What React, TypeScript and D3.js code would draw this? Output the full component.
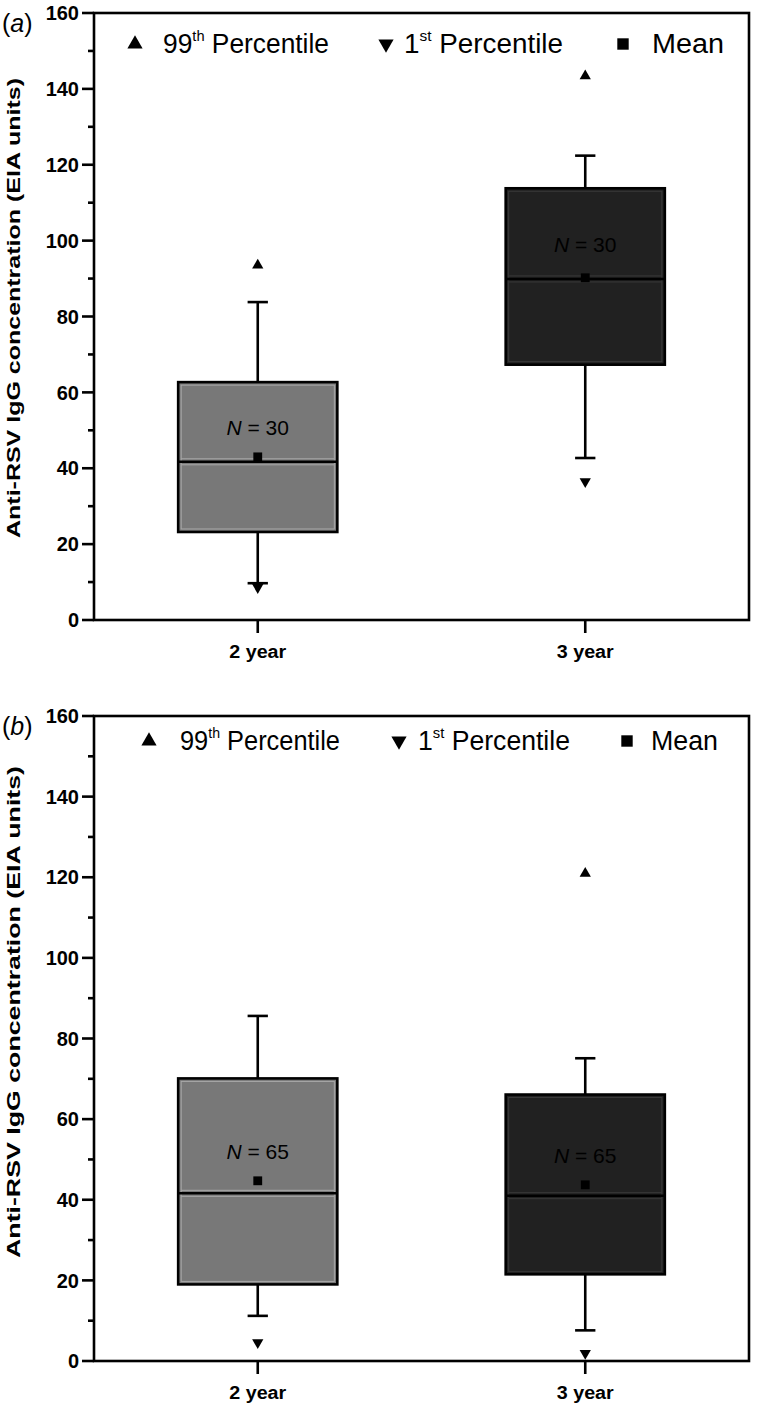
import React from "react";
import * as d3 from "d3";

// ---------- data ----------
const categories = ["2 year", "3 year"];
const yTicks = [0, 20, 40, 60, 80, 100, 120, 140, 160];
const yMinorTicks = [10, 30, 50, 70, 90, 110, 130, 150];

// Panel (a)
const aP99 = [93.5, 143.4];
const aWhiskerHigh = [83.8, 122.4];
const aQ3 = [62.7, 113.8];
const aMedian = [41.7, 89.9];
const aMean = [43.0, 90.2];
const aQ1 = [23.2, 67.3];
const aWhiskerLow = [9.7, 42.7];
const aP1 = [8.6, 36.5];
const aN = [30, 30];
const aNLabelAt = [50.8, 99];

// Panel (b)
const bP99 = [NaN, 120.9];
const bWhiskerHigh = [85.6, 75.1];
const bQ3 = [70.1, 66.1];
const bMedian = [41.6, 41.0];
const bMean = [44.7, 43.7];
const bQ1 = [19.0, 21.5];
const bWhiskerLow = [11.2, 7.6];
const bP1 = [4.6, 1.9];
const bN = [65, 65];
const bNLabelAt = [51.9, 51.1];

const legendLabels = ["99", "1", "Mean"];
const legendSup = ["th", "st", ""];

// ---------- layout / style ----------
const LEFT = 94;
const RIGHT = 749;
const FONT = "'Liberation Sans', Arial, sans-serif";
const boxFills = ["#787878", "#212121"];
const innerStrokes = ["#a9a9a9", "#3a3a3a"];

type PanelCfg = {
  tag: string;
  top: number;
  bottom: number;
  p99: number[];
  wHigh: number[];
  q3: number[];
  median: number[];
  mean: number[];
  q1: number[];
  wLow: number[];
  p1: number[];
  n: number[];
  nAt: number[];
  legendY: number;
  legendX: number[];
  labelCenter: number;
  labelLength: number;
};

const panels: PanelCfg[] = [
  {
    tag: "a",
    top: 13,
    bottom: 620,
    p99: aP99,
    wHigh: aWhiskerHigh,
    q3: aQ3,
    median: aMedian,
    mean: aMean,
    q1: aQ1,
    wLow: aWhiskerLow,
    p1: aP1,
    n: aN,
    nAt: aNLabelAt,
    legendY: 53,
    legendX: [135, 163, 166, 386, 404, 159, 623, 652, 72],
    labelCenter: 308,
    labelLength: 460,
  },
  {
    tag: "b",
    top: 716,
    bottom: 1361,
    p99: bP99,
    wHigh: bWhiskerHigh,
    q3: bQ3,
    median: bMedian,
    mean: bMean,
    q1: bQ1,
    wLow: bWhiskerLow,
    p1: bP1,
    n: bN,
    nAt: bNLabelAt,
    legendY: 750,
    legendX: [149, 180, 160, 399, 418, 152, 627, 651, 67],
    labelCenter: 1012,
    labelLength: 492,
  },
];

const triUp = d3.symbol().type(d3.symbolTriangle);
const sq = d3.symbol().type(d3.symbolSquare);

function Panel({ cfg }: { cfg: PanelCfg }) {
  const y = d3.scaleLinear().domain([0, 160]).range([cfg.bottom, cfg.top]);
  const x = d3.scaleLinear().domain([0.5, 2.5]).range([LEFT, RIGHT]);
  const halfBox = 0.243;
  const halfCap = 0.031;
  const sw = 2.6;

  return (
    <g fontFamily={FONT}>
      <text x={2} y={cfg.top + 12} fontSize={25} dominantBaseline="middle">
        (<tspan fontStyle="italic">{cfg.tag}</tspan>)
      </text>

      <text
        transform={`translate(20,${cfg.labelCenter}) rotate(-90)`}
        textAnchor="middle"
        fontSize={19}
        fontWeight="bold"
        textLength={cfg.labelLength}
        lengthAdjust="spacingAndGlyphs"
      >
        Anti-RSV IgG concentration (EIA units)
      </text>

      {categories.map((c, i) => {
        const cx = x(i + 1);
        const x0 = x(i + 1 - halfBox);
        const x1 = x(i + 1 + halfBox);
        const c0 = x(i + 1 - halfCap);
        const c1 = x(i + 1 + halfCap);
        const yq3 = y(cfg.q3[i]);
        const yq1 = y(cfg.q1[i]);
        const ym = y(cfg.median[i]);
        return (
          <g key={c}>
            <line x1={cx} x2={cx} y1={yq3} y2={y(cfg.wHigh[i])} stroke="#000" strokeWidth={sw} />
            <line x1={c0} x2={c1} y1={y(cfg.wHigh[i])} y2={y(cfg.wHigh[i])} stroke="#000" strokeWidth={sw} />
            <line x1={cx} x2={cx} y1={yq1} y2={y(cfg.wLow[i])} stroke="#000" strokeWidth={sw} />
            <line x1={c0} x2={c1} y1={y(cfg.wLow[i])} y2={y(cfg.wLow[i])} stroke="#000" strokeWidth={sw} />
            <rect x={x0} y={yq3} width={x1 - x0} height={yq1 - yq3} fill={boxFills[i]} stroke="#000" strokeWidth={sw} />
            <rect
              x={x0 + 3}
              y={yq3 + 3}
              width={x1 - x0 - 6}
              height={yq1 - yq3 - 6}
              fill="none"
              stroke={innerStrokes[i]}
              strokeWidth={1}
            />
            <line x1={x0 + 3} x2={x1 - 3} y1={ym - 3} y2={ym - 3} stroke={innerStrokes[i]} strokeWidth={1} />
            <line x1={x0 + 3} x2={x1 - 3} y1={ym + 3} y2={ym + 3} stroke={innerStrokes[i]} strokeWidth={1} />
            <line x1={x0} x2={x1} y1={ym} y2={ym} stroke="#000" strokeWidth={sw} />
            <text x={cx} y={y(cfg.nAt[i])} dy="0.36em" textAnchor="middle" fontSize={21} fill="#000">
              <tspan fontStyle="italic">N</tspan>
              {" = " + cfg.n[i]}
            </text>
            <path d={sq.size(78)() as string} transform={`translate(${cx},${y(cfg.mean[i])})`} fill="#000" />
            {Number.isFinite(cfg.p99[i]) && (
              <path d={triUp.size(55)() as string} transform={`translate(${cx},${y(cfg.p99[i])})`} fill="#000" />
            )}
            <path
              d={triUp.size(55)() as string}
              transform={`translate(${cx},${y(cfg.p1[i])}) rotate(180)`}
              fill="#000"
            />
          </g>
        );
      })}

      <rect
        x={LEFT}
        y={cfg.top}
        width={RIGHT - LEFT}
        height={cfg.bottom - cfg.top}
        fill="none"
        stroke="#000"
        strokeWidth={sw}
      />

      {yTicks.map((t) => (
        <g key={t}>
          <line x1={LEFT - 12} x2={LEFT} y1={y(t)} y2={y(t)} stroke="#000" strokeWidth={sw} />
          <text x={LEFT - 15} y={y(t)} dy="0.36em" textAnchor="end" fontSize={20} fontWeight="bold">
            {t}
          </text>
        </g>
      ))}
      {yMinorTicks.map((t) => (
        <line key={t} x1={LEFT - 6} x2={LEFT} y1={y(t)} y2={y(t)} stroke="#000" strokeWidth={sw} />
      ))}

      {categories.map((c, i) => (
        <g key={c}>
          <line x1={x(i + 1)} x2={x(i + 1)} y1={cfg.bottom} y2={cfg.bottom + 13} stroke="#000" strokeWidth={sw} />
          <text
            x={x(i + 1)}
            y={cfg.bottom + 38}
            textAnchor="middle"
            fontSize={18}
            fontWeight="bold"
            textLength={57}
            lengthAdjust="spacingAndGlyphs"
          >
            {c}
          </text>
        </g>
      ))}

      <g>
        <path
          d={triUp.size(100)() as string}
          transform={`translate(${cfg.legendX[0]},${cfg.legendY - 9})`}
          fill="#000"
        />
        <text
          x={cfg.legendX[1]}
          y={cfg.legendY}
          fontSize={27}
          textLength={cfg.legendX[2]}
          lengthAdjust="spacingAndGlyphs"
        >
          {legendLabels[0]}
          <tspan fontSize={15} dy={-12}>
            {legendSup[0]}
          </tspan>
          <tspan dy={12}> Percentile</tspan>
        </text>
        <path
          d={triUp.size(100)() as string}
          transform={`translate(${cfg.legendX[3]},${cfg.legendY - 9}) rotate(180)`}
          fill="#000"
        />
        <text
          x={cfg.legendX[4]}
          y={cfg.legendY}
          fontSize={27}
          textLength={cfg.legendX[5]}
          lengthAdjust="spacingAndGlyphs"
        >
          {legendLabels[1]}
          <tspan fontSize={15} dy={-12}>
            {legendSup[1]}
          </tspan>
          <tspan dy={12}> Percentile</tspan>
        </text>
        <path d={sq.size(130)() as string} transform={`translate(${cfg.legendX[6]},${cfg.legendY - 9})`} fill="#000" />
        <text
          x={cfg.legendX[7]}
          y={cfg.legendY}
          fontSize={27}
          textLength={cfg.legendX[8]}
          lengthAdjust="spacingAndGlyphs"
        >
          {legendLabels[2]}
        </text>
      </g>
    </g>
  );
}

export default function App() {
  return (
    <svg
      width={760}
      height={1409}
      viewBox="0 0 760 1409"
      style={{ position: "absolute", left: 0, top: 0, background: "#fff" }}
    >
      <rect width={760} height={1409} fill="#fff" />
      {panels.map((p) => (
        <Panel key={p.tag} cfg={p} />
      ))}
    </svg>
  );
}
